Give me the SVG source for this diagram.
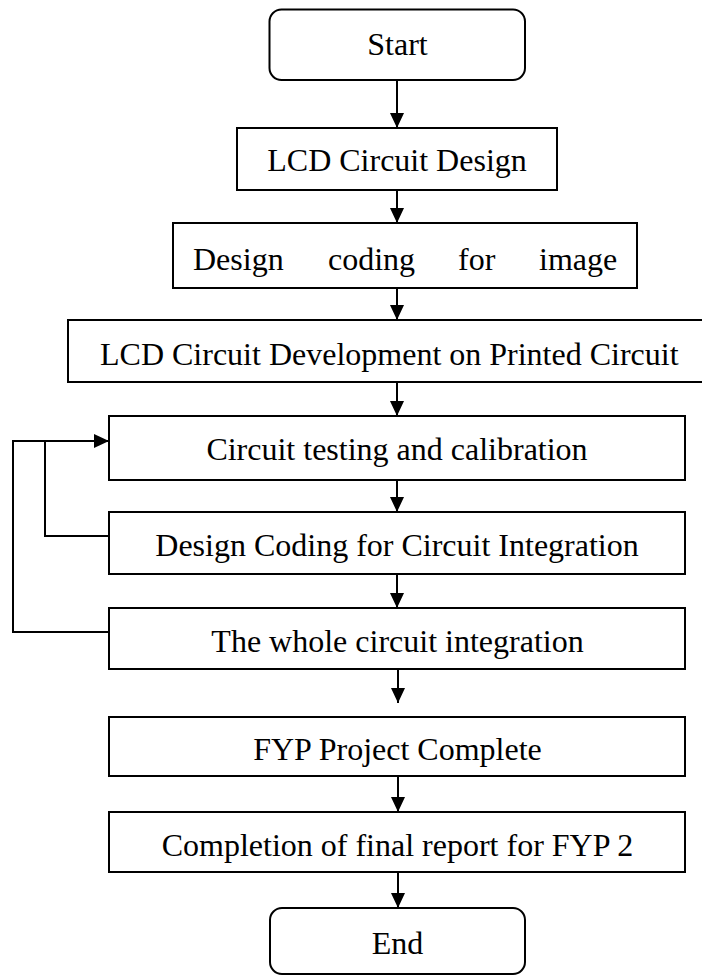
<svg xmlns="http://www.w3.org/2000/svg" width="702" height="976" viewBox="0 0 702 976">
<style>
.box{fill:#fff;stroke:#000;stroke-width:2}
.t{font-family:"Liberation Serif","Times New Roman",serif;font-size:32px;fill:#000}
.m{text-anchor:middle}
.c{fill:none;stroke:#000;stroke-width:2}
</style>
<defs>
<marker id="ah" markerUnits="userSpaceOnUse" markerWidth="16" markerHeight="16" refX="15" refY="7" orient="auto">
<path d="M0,0 L15,7 L0,14 z" fill="#000"/>
</marker>
</defs>
<rect width="702" height="976" fill="#fff"/>
<g id="connectors">
<line class="c" x1="397" y1="80" x2="397" y2="128" marker-end="url(#ah)"/>
<line class="c" x1="397" y1="190" x2="397" y2="223" marker-end="url(#ah)"/>
<line class="c" x1="397" y1="288" x2="397" y2="320" marker-end="url(#ah)"/>
<line class="c" x1="397" y1="382" x2="397" y2="416" marker-end="url(#ah)"/>
<line class="c" x1="397" y1="480" x2="397" y2="512" marker-end="url(#ah)"/>
<line class="c" x1="397" y1="574" x2="397" y2="608" marker-end="url(#ah)"/>
<line class="c" x1="398" y1="669" x2="398" y2="703" marker-end="url(#ah)"/>
<line class="c" x1="398" y1="776" x2="398" y2="812" marker-end="url(#ah)"/>
<line class="c" x1="398" y1="872" x2="398" y2="908" marker-end="url(#ah)"/>
<polyline class="c" points="109,632 13,632 13,441 109,441" marker-end="url(#ah)"/>
<polyline class="c" points="109,536 45,536 45,441"/>
</g>
<g id="start">
<rect class="box" x="269.5" y="9.5" width="255.5" height="70.5" rx="12"/>
<text class="t m" x="397.5" y="55">Start</text>
</g>
<g id="lcd-design">
<rect class="box" x="237" y="128" width="320" height="62"/>
<text class="t m" x="397" y="171">LCD Circuit Design</text>
</g>
<g id="design-coding-image">
<rect class="box" x="173" y="223" width="464" height="65"/>
<text class="t" x="193" y="270">Design</text>
<text class="t" x="328" y="270">coding</text>
<text class="t" x="458" y="270">for</text>
<text class="t" x="539" y="270">image</text>
</g>
<g id="lcd-development">
<rect class="box" x="68" y="320" width="636" height="62"/>
<text class="t" x="100" y="365">LCD Circuit Development on Printed Circuit</text>
</g>
<g id="circuit-testing">
<rect class="box" x="109" y="416" width="576" height="64"/>
<text class="t m" x="397" y="460">Circuit testing and calibration</text>
</g>
<g id="design-coding-integration">
<rect class="box" x="109" y="512" width="576" height="62"/>
<text class="t m" x="397" y="556">Design Coding for Circuit Integration</text>
</g>
<g id="whole-integration">
<rect class="box" x="109" y="608" width="576" height="61"/>
<text class="t m" x="397.5" y="652">The whole circuit integration</text>
</g>
<g id="fyp-complete">
<rect class="box" x="109" y="717" width="576" height="59"/>
<text class="t m" x="397.5" y="760">FYP Project Complete</text>
</g>
<g id="final-report">
<rect class="box" x="109" y="812" width="576" height="60"/>
<text class="t m" x="397.5" y="856">Completion of final report for FYP 2</text>
</g>
<g id="end">
<rect class="box" x="270" y="908" width="255" height="66" rx="12"/>
<text class="t m" x="397.5" y="954">End</text>
</g>
</svg>
